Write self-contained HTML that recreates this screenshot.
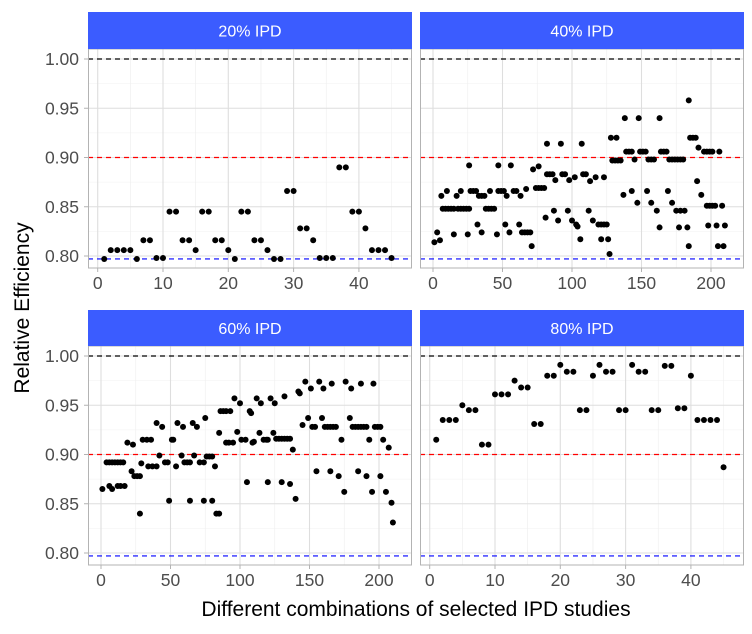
<!DOCTYPE html>
<html><head><meta charset="utf-8"><style>
body{margin:0;background:#fff;}
svg{display:block;font-family:"Liberation Sans",Arial,sans-serif;}
</style></head><body>
<svg id="chart" width="752" height="634" viewBox="0 0 752 634"></svg>
<script>
const panelTitles = ["20% IPD","40% IPD","60% IPD","80% IPD"];
const yTicks = [0.80,0.85,0.90,0.95,1.00];
const yTickLabels = ["0.80","0.85","0.90","0.95","1.00"];
const xTicksSmall = [0,10,20,30,40];
const xTicksLarge = [0,50,100,150,200];
const refLines = [1.0,0.90,0.797];
const refColors = ["#000000","#ff0000","#0000ff"];
const eff20 = [0.797,0.806,0.806,0.806,0.806,0.797,0.816,0.816,0.798,0.798,0.845,0.845,0.816,0.816,0.806,0.845,0.845,0.816,0.816,0.806,0.797,0.845,0.845,0.816,0.816,0.806,0.797,0.797,0.866,0.866,0.828,0.828,0.816,0.798,0.798,0.798,0.890,0.890,0.845,0.845,0.828,0.806,0.806,0.806,0.798];
const eff80 = [0.915,0.935,0.935,0.935,0.950,0.945,0.945,0.910,0.910,0.961,0.961,0.961,0.975,0.968,0.968,0.931,0.931,0.980,0.980,0.991,0.984,0.984,0.945,0.945,0.980,0.991,0.984,0.984,0.945,0.945,0.991,0.984,0.984,0.945,0.945,0.990,0.990,0.947,0.947,0.980,0.935,0.935,0.935,0.935,0.887];
const pts40 = [[1,.814],[3,.824],[5,.816],[6,.861],[10,.866],[7,.848],[9,.848],[11,.848],[13,.848],[15,.848],[15,.822],[17,.861],[20,.866],[18,.848],[20,.848],[22,.848],[24,.848],[26,.848],[25,.822],[26,.892],[27,.866],[29,.866],[31,.866],[32,.832],[33,.861],[35,.861],[37,.861],[35,.824],[38,.848],[40,.848],[42,.848],[44,.848],[41,.866],[46,.822],[47,.892],[47,.866],[49,.866],[51,.866],[52,.832],[53,.861],[55,.824],[56,.892],[58,.866],[60,.866],[62,.832],[63,.861],[64,.824],[66,.824],[68,.824],[70,.824],[67,.868],[71,.810],[72,.888],[76,.891],[74,.869],[76,.869],[78,.869],[80,.869],[81,.839],[82,.914],[82,.883],[84,.883],[86,.883],[87,.846],[88,.877],[90,.836],[92,.914],[93,.883],[95,.883],[97,.846],[98,.877],[100,.836],[102,.880],[103,.832],[104,.830],[106,.817],[107,.914],[108,.883],[110,.883],[113,.876],[117,.880],[123,.880],[112,.846],[115,.836],[119,.832],[121,.832],[123,.832],[125,.832],[121,.817],[126,.817],[127,.802],[128,.920],[132,.920],[129,.897],[131,.897],[133,.897],[135,.897],[137,.862],[138,.940],[139,.906],[141,.906],[143,.906],[143,.866],[145,.898],[147,.854],[148,.940],[149,.906],[151,.906],[153,.906],[154,.866],[155,.898],[157,.898],[159,.898],[157,.854],[161,.846],[163,.829],[163,.940],[164,.906],[166,.906],[168,.906],[169,.866],[170,.898],[172,.898],[174,.898],[176,.898],[178,.898],[180,.898],[172,.854],[175,.846],[178,.846],[181,.846],[177,.829],[183,.829],[184,.810],[184,.958],[185,.920],[187,.920],[189,.920],[190,.876],[191,.910],[193,.862],[195,.906],[197,.906],[199,.906],[201,.906],[197,.851],[199,.851],[201,.851],[203,.851],[198,.831],[204,.831],[210,.831],[205,.810],[209,.810],[206,.906],[208,.851]];
const pts60 = [[1,.865],[4,.892],[6,.892],[8,.892],[10,.892],[12,.892],[14,.892],[16,.892],[6,.868],[8,.865],[12,.868],[14,.868],[17,.868],[19,.912],[23,.910],[22,.883],[24,.878],[26,.878],[28,.878],[28,.840],[29,.891],[30,.915],[33,.915],[36,.915],[34,.888],[37,.888],[40,.888],[40,.932],[44,.928],[42,.899],[46,.892],[48,.892],[49,.853],[51,.915],[52,.915],[54,.888],[55,.932],[59,.928],[58,.899],[60,.892],[62,.892],[64,.892],[64,.853],[66,.932],[69,.928],[67,.899],[71,.892],[74,.892],[74,.853],[80,.853],[75,.937],[76,.898],[78,.898],[80,.898],[82,.888],[83,.840],[85,.840],[85,.922],[86,.944],[88,.944],[90,.944],[93,.944],[90,.912],[92,.912],[95,.912],[96,.957],[100,.952],[98,.923],[101,.915],[104,.915],[105,.872],[107,.944],[108,.942],[109,.912],[110,.913],[112,.957],[115,.952],[114,.922],[117,.915],[119,.915],[120,.915],[120,.872],[122,.957],[125,.952],[124,.922],[126,.916],[128,.916],[130,.916],[132,.916],[134,.916],[136,.916],[130,.872],[132,.959],[136,.870],[138,.905],[140,.855],[142,.964],[143,.962],[145,.930],[147,.974],[151,.967],[149,.937],[152,.928],[154,.928],[155,.883],[157,.974],[160,.967],[159,.937],[161,.928],[163,.928],[165,.928],[167,.928],[169,.928],[165,.883],[166,.972],[171,.878],[173,.915],[175,.862],[176,.974],[180,.967],[179,.937],[181,.928],[183,.928],[185,.928],[187,.928],[189,.928],[191,.928],[185,.883],[187,.972],[191,.878],[193,.915],[195,.862],[196,.972],[197,.928],[199,.928],[201,.928],[201,.878],[203,.915],[205,.862],[207,.907],[209,.851],[210,.831]];

const NS="http://www.w3.org/2000/svg";
const svg=document.getElementById('chart');
function mk(tag,attrs,parent){const e=document.createElementNS(NS,tag);for(const k in attrs)e.setAttribute(k,attrs[k]);(parent||svg).appendChild(e);return e;}

const panels=[
 {left:88,top:49,title:panelTitles[0],small:true,stripTop:12},
 {left:420,top:49,title:panelTitles[1],small:false,stripTop:12},
 {left:88,top:346,title:panelTitles[2],small:false,stripTop:310},
 {left:420,top:346,title:panelTitles[3],small:true,stripTop:310}
];
const PW=324, PH=219;
panels.forEach((p,pi)=>{
  const g=mk('g',{});
  
  
  const yScale=v=>p.top+10+(1-v)*985;
  const xScale=p.small? (i=>p.left+9.7+i*6.53) : (i=>p.left+13+i*1.39);
  mk('rect',{x:p.left,y:p.top,width:PW,height:PH,fill:'#fff'},g);
  for(let k=0;k<yTicks.length;k++){
    const yy=yScale(yTicks[k]+0.025);
    if(yy>p.top&&yy<p.top+PH) mk('line',{x1:p.left,x2:p.left+PW,y1:yy,y2:yy,stroke:'#f0f0f0','stroke-width':0.6},g);
    const yy2=yScale(yTicks[k]-0.025);
    if(k===0&&yy2<p.top+PH) mk('line',{x1:p.left,x2:p.left+PW,y1:yy2,y2:yy2,stroke:'#f0f0f0','stroke-width':0.6},g);
  }
  const xt=p.small?xTicksSmall:xTicksLarge;
  const step=p.small?5:25;
  for(let k=0;k<xt.length;k++){
    [xt[k]-step,xt[k]+step].forEach(mv=>{const xx=xScale(mv); if(xx>p.left&&xx<p.left+PW) mk('line',{x1:xx,x2:xx,y1:p.top,y2:p.top+PH,stroke:'#f0f0f0','stroke-width':0.6},g);});
  }
  yTicks.forEach(v=>{const yy=yScale(v);mk('line',{x1:p.left,x2:p.left+PW,y1:yy,y2:yy,stroke:'#dedede','stroke-width':1.1},g);});
  xt.forEach(v=>{const xx=xScale(v);mk('line',{x1:xx,x2:xx,y1:p.top,y2:p.top+PH,stroke:'#dedede','stroke-width':1.1},g);});
  refLines.forEach((v,k)=>{const yy=yScale(v);const l=mk('line',{x1:p.left,x2:p.left+PW,y1:yy,y2:yy,stroke:refColors[k],'stroke-width':1.2,'stroke-dasharray':'5,4'},g);
    
    });
  let pts=[];
  if(pi===0) pts=eff20.map((v,i)=>[i+1,v]);
  else if(pi===3) pts=eff80.map((v,i)=>[i+1,v]);
  else if(pi===1) pts=pts40; else pts=pts60;
  pts.forEach(d=>{const c=mk('circle',{cx:xScale(d[0]),cy:yScale(d[1]),r:3,fill:'#000'},g);
    
    });
  mk('rect',{x:p.left+0.5,y:p.top,width:PW-1,height:PH,fill:'none',stroke:'#b3b3b3','stroke-width':1},g);
  const s=mk('rect',{x:p.left,y:p.stripTop,width:PW,height:p.top-p.stripTop,fill:'#3b5cff'},g);
  
  
  const st=mk('text',{x:p.left+PW/2,y:p.stripTop+(p.top-p.stripTop)/2+6,'text-anchor':'middle','font-size':16,fill:'#fff'},g);
  st.textContent=p.title;
  
  
  if(p.left===88){
    yTicks.forEach((v,k)=>{const yy=yScale(v);
      mk('line',{x1:p.left-4,x2:p.left,y1:yy,y2:yy,stroke:'#b3b3b3','stroke-width':1},g);
      const t=mk('text',{x:p.left-9,y:yy+6,'text-anchor':'end','font-size':17.5,fill:'#4d4d4d'},g);
      t.textContent=yTickLabels[k];
      
      });
  }
  xt.forEach(v=>{const xx=xScale(v);
    mk('line',{x1:xx,x2:xx,y1:p.top+PH,y2:p.top+PH+4,stroke:'#b3b3b3','stroke-width':1},g);
    const t=mk('text',{x:xx,y:p.top+PH+21,'text-anchor':'middle','font-size':17.5,fill:'#4d4d4d'},g);
    t.textContent=String(v);
    
    });
});
const yt=mk('text',{x:0,y:0,'text-anchor':'middle','font-size':21,fill:'#000',transform:'translate(29,308) rotate(-90)'});
yt.textContent='Relative Efficiency';


const xtt=mk('text',{x:416,y:616,'text-anchor':'middle','font-size':21,fill:'#000'});
xtt.textContent='Different combinations of selected IPD studies';


</script>
</body></html>
